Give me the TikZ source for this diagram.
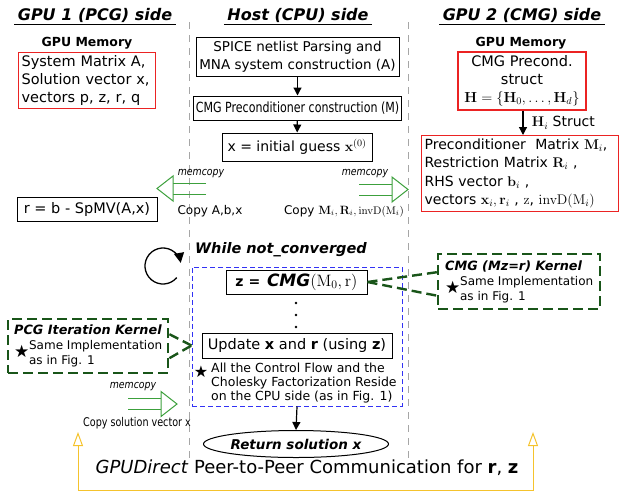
\documentclass[tikz,border=0pt]{standalone}
\usepackage{fix-cm}
\usepackage{amsmath}
\usepackage[no-math]{fontspec}
\setmainfont{DejaVu Sans}
\usepackage{graphicx}
\usepackage{xcolor}
\usetikzlibrary{arrows.meta, positioning, calc, shapes.geometric}

\definecolor{memred}{RGB}{235,35,35}
\definecolor{kgreen}{RGB}{25,85,25}
\definecolor{mcgreen}{RGB}{60,160,60}
\definecolor{loopblue}{RGB}{50,50,245}
\definecolor{pgold}{RGB}{245,195,45}

\newcommand{\fsz}[2]{\fontsize{#1}{#2}\selectfont}

\begin{document}
\begin{tikzpicture}[x=1pt,y=-1pt,
  side/.style={font=\fsz{16}{19}\bfseries\itshape},
  uline/.style={line width=1.6pt},
  memlabel/.style={font=\fsz{12.5}{15}\bfseries},
  membox/.style={draw=memred, line width=1.2pt, inner sep=3pt, font=\fsz{14.5}{18}, align=left},
  hostbox/.style={draw, line width=1pt, inner sep=2pt, font=\fsz{14}{17}, align=center},
  flow/.style={-{Triangle[length=8pt,width=8pt]}, line width=1.2pt},
  kernelbox/.style={draw=kgreen, line width=2.4pt, dash pattern=on 10pt off 5pt, align=left, font=\fsz{12}{15}, inner sep=4pt},
  kline/.style={kgreen, line width=2.4pt, dash pattern=on 10pt off 5pt},
  mclabel/.style={font=\fsz{11}{12}\itshape, inner sep=0pt},
  copylabel/.style={font=\fsz{12}{14}, inner sep=1pt},
  sep/.style={gray!70, line width=0.9pt, dash pattern=on 7pt off 6pt},
  p2parrow/.style={pgold, line width=1pt, {Triangle[open,length=14pt,width=10pt]}-{Triangle[open,length=14pt,width=10pt]}},
  memarrow/.pic={
    \draw[mcgreen, line width=1pt] (-49,-5.5) -- (-16,-5.5) (-49,5.5) -- (-16,5.5);
    \draw[mcgreen, line width=1pt, fill=white] (-16,-12.5) -- (0,0) -- (-16,12.5) -- cycle;
  }
]
\useasboundingbox (0,0) rectangle (620,493);

% column separators
\draw[sep] (189,22) -- (189,460);
\draw[sep] (408,22) -- (408,460);

% headings
\node[side] (hdrL) at (95,15) {GPU 1 (PCG) side};
\node[side] (hdrH) at (298,15) {Host (CPU) side};
\node[side] (hdrR) at (522,15) {GPU 2 (CMG) side};
\draw[uline] ([yshift=-4.5pt]hdrL.base west) -- ([yshift=-4.5pt]hdrL.base east);
\draw[uline] ([yshift=-4.5pt]hdrH.base west) -- ([yshift=-4.5pt]hdrH.base east);
\draw[uline] ([yshift=-4.5pt]hdrR.base west) -- ([yshift=-4.5pt]hdrR.base east);

% GPU 1 memory
\node[memlabel] (memLlbl) at (87,43) {GPU Memory};
\node[membox, text width=131, anchor=north west] (memL) at (18,52) {System Matrix A,\\Solution vector x,\\vectors p, z, r, q};

% GPU 2 memory
\node[memlabel] (memRlbl) at (521,43) {GPU Memory};
\node[membox, align=center, minimum width=128, minimum height=58] (memR) at (522,81)
  {CMG Precond.\\struct\\$\mathbf{H}=\{\mathbf{H}_0,\ldots,\mathbf{H}_d\}$};
\node[membox, text width=191, anchor=north west, font=\fsz{14}{18.5}] (gpu2vec) at (421,135)
  {Preconditioner~~Matrix $\mathbf{M}_i$,\\Restriction Matrix $\mathbf{R}_i$ ,\\RHS vector $\mathbf{b}_i$ ,\\vectors $\mathbf{x}_i,\mathbf{r}_i$ , $\mathrm{z}$, $\mathrm{invD}(\mathrm{M}_i)$};
\draw[flow] ([xshift=1pt]memR.south) -- ([xshift=1pt]memR.south |- gpu2vec.north)
  node[midway, right=5pt, font=\fsz{14}{16}] (hstruct) {$\mathbf{H}_i$ Struct};

% host side set-up
\node[hostbox, minimum width=203, minimum height=39, font=\fsz{13.5}{18}] (spice) at (297.5,57) {SPICE netlist Parsing and\\MNA system construction (A)};
\node[hostbox, minimum width=203, minimum height=24] (cmgc) at (297.5,108) {\scalebox{0.79}[1]{CMG Preconditioner construction (M)}};
\node[hostbox, minimum width=150, minimum height=28] (xinit) at (297,147) {x = initial guess $\mathbf{x}^{(0)}$};
\draw[flow] (spice) -- (cmgc);
\draw[flow] (cmgc) -- (xinit);

% memcopy transfers
\pic[rotate=180] at (157,188.5) {memarrow};
\pic at (408,189.5) {memarrow};
\pic at (177,404) {memarrow};
\node[mclabel] (mcA) at (201,174) {\scalebox{0.85}[1]{memcopy}};
\node[mclabel] (mcM) at (365,174) {\scalebox{0.85}[1]{memcopy}};
\node[mclabel] (mcX) at (133,387) {\scalebox{0.85}[1]{memcopy}};
\node[copylabel] (cpA) at (210,211) {Copy A,b,x};
\node[copylabel] (cpM) at (344,211) {Copy $\mathbf{M}_i, \mathbf{R}_i,$\,{\fsz{11}{12}$\mathrm{invD}(\mathrm{M}_i)$}};
\node[copylabel] (cpX) at (137,423) {\scalebox{0.8}[1]{Copy solution vector x}};

\node[hostbox, minimum width=140, minimum height=24, font=\fsz{14.5}{17}] (resid) at (87,209) {r = b - SpMV(A,x)};

% solver loop
\node[font=\fsz{14.5}{17}\bfseries\itshape] (while) at (281,250) {While not\_converged};
\coordinate (loopc) at (163,266);
\draw[-{Triangle[length=10pt,width=10pt]}, line width=1.3pt] ($(loopc)+(40:18)$) arc[start angle=40, end angle=350, radius=18];
\node[draw=loopblue, line width=1pt, dash pattern=on 5pt off 3pt, minimum width=210, minimum height=139] (loop) at (297,336.5) {};
\node[hostbox, minimum width=141, minimum height=24] (zcmg) at (296.5,282)
  {\textbf{z =}\, {\fsz{17}{20}\bfseries\itshape CMG}{\fsz{16.5}{18}$(\mathrm{M}_0,\mathrm{r})$}};
\foreach \y in {303,315,327} \fill (296,\y) circle (1.3);
\node[hostbox, minimum width=190, minimum height=25, font=\fsz{14.5}{17}] (update) at (297,345.5) {Update \textbf{x} and \textbf{r} (using \textbf{z})};
\node[font=\fsz{16}{16}] (cpustar) at (201,372) {★};
\node[anchor=north west, align=left, font=\fsz{12.5}{14}, inner sep=0pt] (cpunote) at (211,363)
  {All the Control Flow and the\\Cholesky Factorization Reside\\on the CPU side (as in Fig. 1)};
\node[ellipse, draw, line width=1pt, minimum width=162, minimum height=27, inner sep=0pt, font=\fsz{13.5}{16}\bfseries\itshape] (ret) at (296,444) {Return solution x};
\draw[flow] (loop.south) -- (ret.north);

% kernels
\node[kernelbox, minimum width=162, minimum height=55, anchor=north west] (cmgk) at (437,253)
  {{\fsz{12.8}{15}\bfseries\itshape CMG (Mz=r) Kernel}\\
   \makebox[15pt][l]{\smash{\raisebox{-8pt}{\fsz{17}{17}★}}}Same Implementation\\
   \hspace*{15pt}as in Fig. 1};
\draw[kline] (zcmg.east) -- ([yshift=9.5pt]cmgk.west);
\draw[kline] (zcmg.east) -- ([yshift=-14pt]cmgk.west);
\node[kernelbox, minimum width=160, minimum height=54, anchor=north west] (pcgk) at (7,318)
  {{\fsz{12.8}{15}\bfseries\itshape PCG Iteration Kernel}\\
   \makebox[15pt][l]{\smash{\raisebox{-8pt}{\fsz{17}{17}★}}}Same Implementation\\
   \hspace*{15pt}as in Fig. 1};
\draw[kline] ([yshift=12pt]pcgk.east) -- (loop.west |- update.west);
\draw[kline] ([yshift=-12pt]pcgk.east) -- (loop.west |- update.west);

% peer-to-peer link
\node[font=\fsz{18}{21}] (p2p) at (307,468) {\textit{GPUDirect} Peer-to-Peer Communication for \textbf{r}, \textbf{z}};
\coordinate (yL) at (78,432);
\coordinate (yR) at (533,432);
\coordinate (ybase) at (0,490);
\draw[p2parrow] (yL) -- (yL |- ybase) -- (yR |- ybase) -- (yR);
\end{tikzpicture}
\end{document}
